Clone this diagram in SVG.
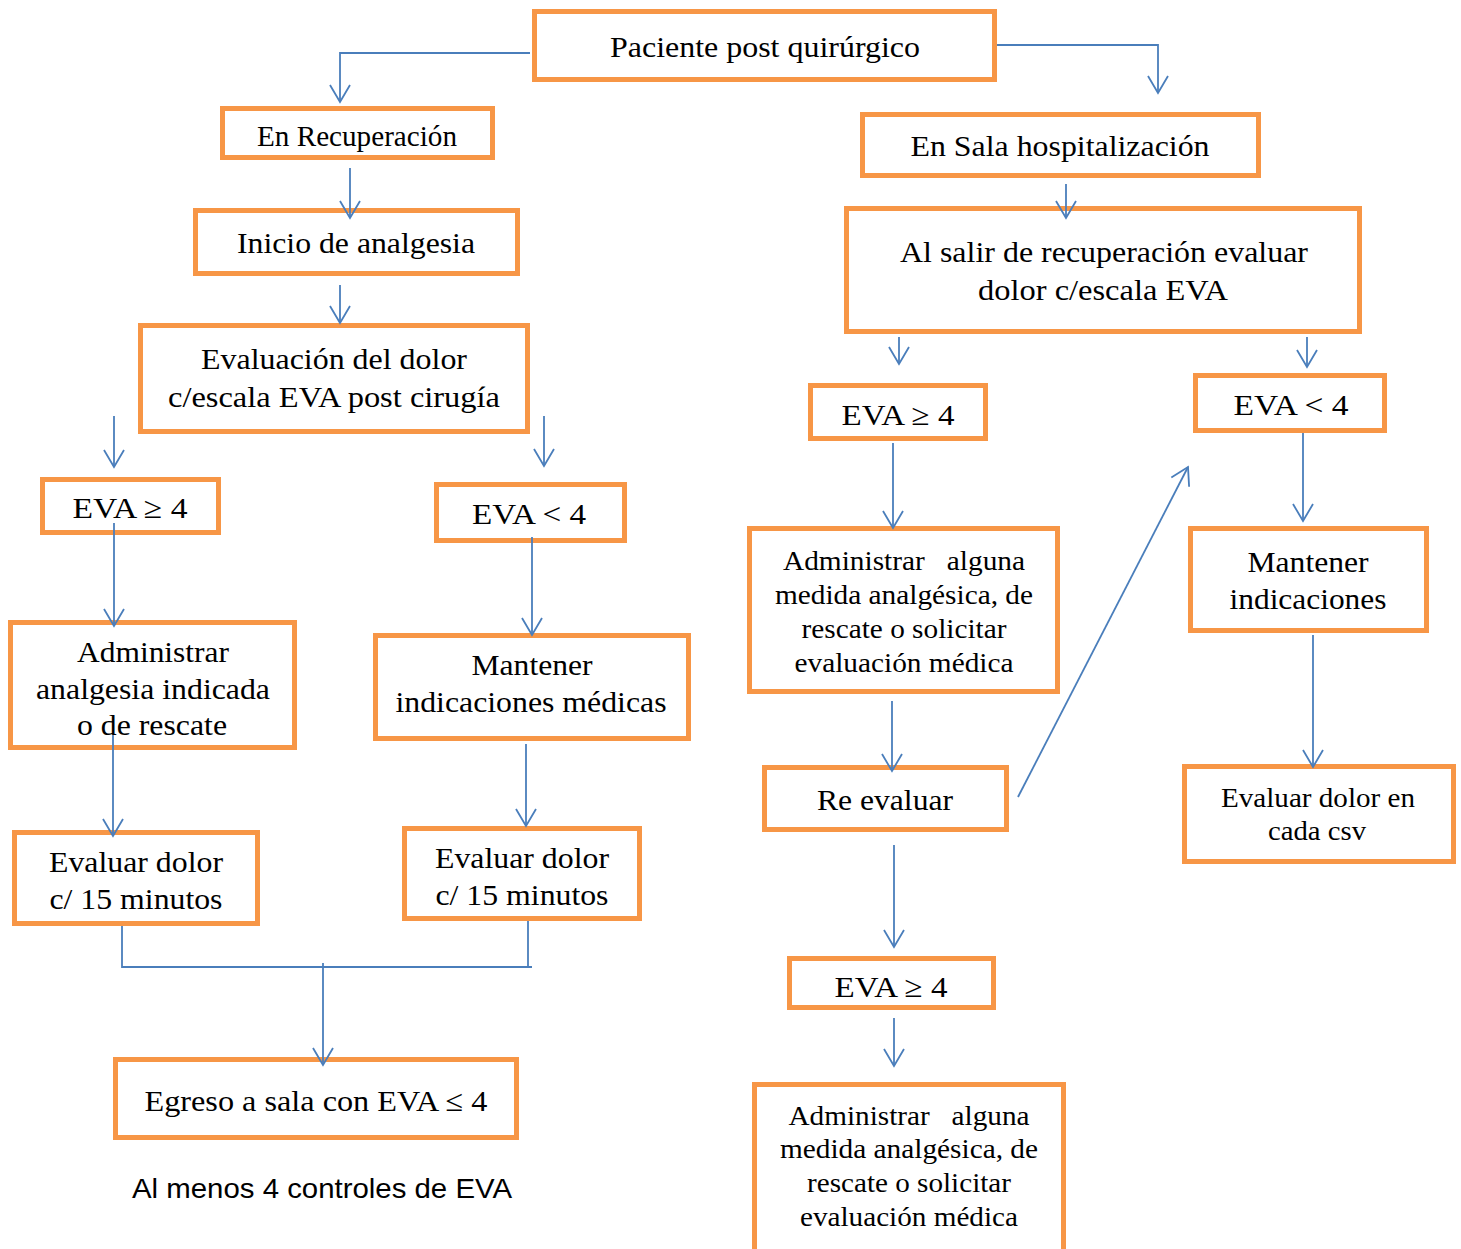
<svg xmlns="http://www.w3.org/2000/svg" width="1461" height="1249" viewBox="0 0 1461 1249">
<style>
.box{fill:#fff;stroke:#F79646;stroke-width:5}
.t{font-family:"Liberation Serif","Times New Roman",serif;font-size:30px;fill:#000;text-anchor:middle}
.s{font-size:27px}
.sans{font-family:"Liberation Sans",Arial,sans-serif;font-size:28px;fill:#000;text-anchor:middle}
.c{fill:none;stroke:#4A7EBB;stroke-width:1.8}
</style>
<defs>
<marker id="ar" markerUnits="userSpaceOnUse" markerWidth="40" markerHeight="40" orient="auto" refX="0" refY="0" overflow="visible">
<path d="M-17,-10 L0,0 L-17,10" fill="none" stroke="#4A7EBB" stroke-width="1.8"/>
</marker>
<clipPath id="clipRec"><rect x="225" y="111" width="265" height="46"/></clipPath>
</defs>
<rect width="1461" height="1249" fill="#fff"/>

<g id="n1"><rect class="box" x="534.5" y="11.5" width="460" height="68"/>
<text class="t" x="765" y="57" font-size="31" textLength="310" lengthAdjust="spacingAndGlyphs">Paciente post quirúrgico</text></g>
<g id="n2"><rect class="box" x="222.5" y="108.5" width="270" height="49"/>
<text class="t" x="357" y="146" font-size="28" textLength="200" lengthAdjust="spacingAndGlyphs" clip-path="url(#clipRec)">En Recuperación</text></g>
<g id="n3"><rect class="box" x="195.5" y="210.5" width="322" height="63"/>
<text class="t" x="356" y="253" textLength="238" lengthAdjust="spacingAndGlyphs">Inicio de analgesia</text></g>
<g id="n4"><rect class="box" x="140.5" y="325.5" width="387" height="106"/>
<text class="t" x="334" y="369" textLength="266" lengthAdjust="spacingAndGlyphs">Evaluación del dolor</text>
<text class="t" x="334" y="407" textLength="332" lengthAdjust="spacingAndGlyphs">c/escala EVA post cirugía</text></g>
<g id="n5"><rect class="box" x="42.5" y="479.5" width="176" height="53"/>
<text class="t" x="130" y="518" textLength="115" lengthAdjust="spacingAndGlyphs">EVA ≥ 4</text></g>
<g id="n6"><rect class="box" x="436.5" y="484.5" width="188" height="56"/>
<text class="t" x="529" y="524" textLength="114" lengthAdjust="spacingAndGlyphs">EVA &lt; 4</text></g>
<g id="n7"><rect class="box" x="10.5" y="622.5" width="284" height="125"/>
<text class="t" x="153" y="662" textLength="152" lengthAdjust="spacingAndGlyphs">Administrar</text>
<text class="t" x="153" y="699" textLength="234" lengthAdjust="spacingAndGlyphs">analgesia indicada</text>
<text class="t" x="152" y="735" textLength="150" lengthAdjust="spacingAndGlyphs">o de rescate</text></g>
<g id="n8"><rect class="box" x="375.5" y="635.5" width="313" height="103"/>
<text class="t" x="532" y="675" textLength="121" lengthAdjust="spacingAndGlyphs">Mantener</text>
<text class="t" x="531" y="712" textLength="271" lengthAdjust="spacingAndGlyphs">indicaciones médicas</text></g>
<g id="n9"><rect class="box" x="14.5" y="832.5" width="243" height="91"/>
<text class="t" x="136" y="872" textLength="174" lengthAdjust="spacingAndGlyphs">Evaluar dolor</text>
<text class="t" x="136" y="909" textLength="173" lengthAdjust="spacingAndGlyphs">c/ 15 minutos</text></g>
<g id="n10"><rect class="box" x="404.5" y="828.5" width="235" height="90"/>
<text class="t" x="522" y="868" textLength="174" lengthAdjust="spacingAndGlyphs">Evaluar dolor</text>
<text class="t" x="522" y="905" textLength="173" lengthAdjust="spacingAndGlyphs">c/ 15 minutos</text></g>
<g id="n11"><rect class="box" x="115.5" y="1059.5" width="401" height="78"/>
<text class="t" x="316" y="1111" textLength="343" lengthAdjust="spacingAndGlyphs">Egreso a sala con EVA ≤ 4</text></g>
<g id="note"><text class="sans" x="322" y="1198" textLength="380" lengthAdjust="spacingAndGlyphs">Al menos 4 controles de EVA</text></g>

<g id="n13"><rect class="box" x="862.5" y="114.5" width="396" height="61"/>
<text class="t" x="1060" y="156" textLength="299" lengthAdjust="spacingAndGlyphs">En Sala hospitalización</text></g>
<g id="n14"><rect class="box" x="846.5" y="208.5" width="513" height="123"/>
<text class="t" x="1104" y="262" textLength="408" lengthAdjust="spacingAndGlyphs">Al salir de recuperación evaluar</text>
<text class="t" x="1103" y="300" textLength="250" lengthAdjust="spacingAndGlyphs">dolor c/escala EVA</text></g>
<g id="n15"><rect class="box" x="810.5" y="385.5" width="175" height="53"/>
<text class="t" x="898" y="425" textLength="113" lengthAdjust="spacingAndGlyphs">EVA ≥ 4</text></g>
<g id="n16"><rect class="box" x="1195.5" y="375.5" width="189" height="55"/>
<text class="t" x="1291" y="415" textLength="115" lengthAdjust="spacingAndGlyphs">EVA &lt; 4</text></g>
<g id="n17"><rect class="box" x="749.5" y="528.5" width="308" height="163"/>
<text class="t s" x="904" y="570" textLength="242" lengthAdjust="spacingAndGlyphs" xml:space="preserve">Administrar   alguna</text>
<text class="t s" x="904" y="604" textLength="258" lengthAdjust="spacingAndGlyphs">medida analgésica, de</text>
<text class="t s" x="904" y="638" textLength="205" lengthAdjust="spacingAndGlyphs">rescate o solicitar</text>
<text class="t s" x="904" y="672" textLength="219" lengthAdjust="spacingAndGlyphs">evaluación médica</text></g>
<g id="n18"><rect class="box" x="1190.5" y="528.5" width="236" height="102"/>
<text class="t" x="1308" y="572" textLength="121" lengthAdjust="spacingAndGlyphs">Mantener</text>
<text class="t" x="1308" y="609" textLength="157" lengthAdjust="spacingAndGlyphs">indicaciones</text></g>
<g id="n19"><rect class="box" x="764.5" y="767.5" width="242" height="62"/>
<text class="t" x="885" y="810" textLength="136" lengthAdjust="spacingAndGlyphs">Re evaluar</text></g>
<g id="n20"><rect class="box" x="1184.5" y="766.5" width="269" height="95"/>
<text class="t s" x="1318" y="807" textLength="194" lengthAdjust="spacingAndGlyphs">Evaluar dolor en</text>
<text class="t s" x="1317" y="840" textLength="98" lengthAdjust="spacingAndGlyphs">cada csv</text></g>
<g id="n21"><rect class="box" x="789.5" y="958.5" width="204" height="49"/>
<text class="t" x="891" y="997" textLength="113" lengthAdjust="spacingAndGlyphs">EVA ≥ 4</text></g>
<g id="n22"><rect class="box" x="754.5" y="1084.5" width="309" height="200"/>
<text class="t s" x="909" y="1125" textLength="241" lengthAdjust="spacingAndGlyphs" xml:space="preserve">Administrar   alguna</text>
<text class="t s" x="909" y="1158" textLength="258" lengthAdjust="spacingAndGlyphs">medida analgésica, de</text>
<text class="t s" x="909" y="1192" textLength="204" lengthAdjust="spacingAndGlyphs">rescate o solicitar</text>
<text class="t s" x="909" y="1226" textLength="218" lengthAdjust="spacingAndGlyphs">evaluación médica</text></g>

<g id="connectors">
<polyline class="c" points="530,53 340,53 340,102" marker-end="url(#ar)"/>
<polyline class="c" points="997,45 1158,45 1158,93" marker-end="url(#ar)"/>
<line class="c" x1="350" y1="168" x2="350" y2="218" marker-end="url(#ar)"/>
<line class="c" x1="340" y1="285" x2="340" y2="323" marker-end="url(#ar)"/>
<line class="c" x1="114" y1="416" x2="114" y2="467" marker-end="url(#ar)"/>
<line class="c" x1="544" y1="416" x2="544" y2="466" marker-end="url(#ar)"/>
<line class="c" x1="114" y1="523" x2="114" y2="626" marker-end="url(#ar)"/>
<line class="c" x1="532" y1="537" x2="532" y2="635" marker-end="url(#ar)"/>
<line class="c" x1="113" y1="735" x2="113" y2="836" marker-end="url(#ar)"/>
<line class="c" x1="526" y1="744" x2="526" y2="826" marker-end="url(#ar)"/>
<polyline class="c" points="122,926 122,967 532,967"/>
<line class="c" x1="528" y1="921" x2="528" y2="967"/>
<line class="c" x1="323" y1="963" x2="323" y2="1065" marker-end="url(#ar)"/>
<line class="c" x1="1066" y1="184" x2="1066" y2="218" marker-end="url(#ar)"/>
<line class="c" x1="899" y1="337" x2="899" y2="364" marker-end="url(#ar)"/>
<line class="c" x1="1307" y1="337" x2="1307" y2="367" marker-end="url(#ar)"/>
<line class="c" x1="893" y1="443" x2="893" y2="528" marker-end="url(#ar)"/>
<line class="c" x1="1303" y1="433" x2="1303" y2="521" marker-end="url(#ar)"/>
<line class="c" x1="892" y1="701" x2="892" y2="771" marker-end="url(#ar)"/>
<line class="c" x1="1018" y1="797" x2="1188" y2="467" marker-end="url(#ar)"/>
<line class="c" x1="1313" y1="635" x2="1313" y2="767" marker-end="url(#ar)"/>
<line class="c" x1="894" y1="845" x2="894" y2="947" marker-end="url(#ar)"/>
<line class="c" x1="894" y1="1018" x2="894" y2="1066" marker-end="url(#ar)"/>
</g>
</svg>
